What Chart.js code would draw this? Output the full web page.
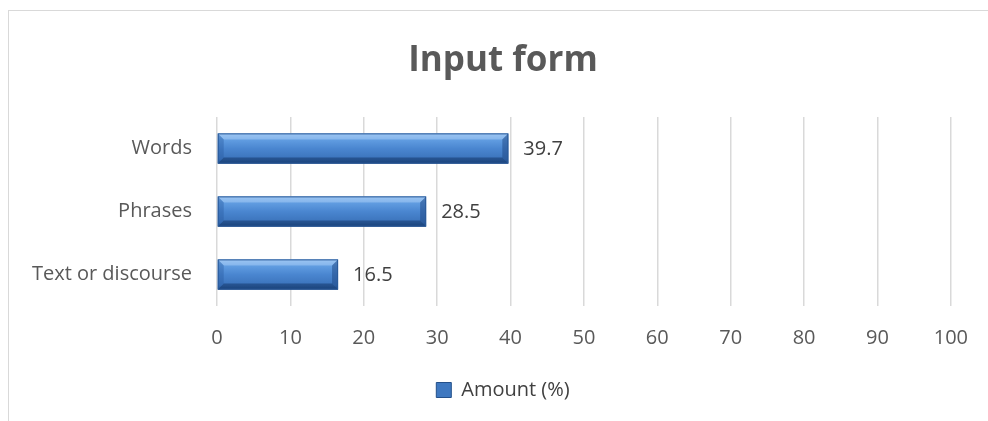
<!DOCTYPE html>
<html>
<head>
<meta charset="utf-8">
<script src="https://cdn.jsdelivr.net/npm/chart.js@4"></script>
<style>
  body { margin: 0; background: #fff; }
  #wrap { position: relative; width: 988px; height: 421px; }
  #frame { position: absolute; left: 8px; top: 10px; width: 1000px; height: 430px;
           border: 1px solid #d9d9d9; pointer-events: none; }
</style>
</head>
<body>
<div id="wrap">
  <canvas id="chart" width="988" height="421"></canvas>
  <div id="frame"></div>
</div>
<script>
var categories = ['Words', 'Phrases', 'Text or discourse'];
var amount = [39.7, 28.5, 16.5];
var seriesName = 'Amount (%)';
var chartTitle = 'Input form';

var fontFamily = "'Open Sans', sans-serif";

// bevelled look for the bars, drawn over the plain bars
var bevelBars = {
  id: 'bevelBars',
  afterDatasetsDraw: function(chart) {
    var ctx = chart.ctx;
    var meta = chart.getDatasetMeta(0);
    meta.data.forEach(function(el) {
      var p = el.getProps(['x', 'y', 'base', 'height'], true);
      var left = p.base, right = p.x;
      var top = p.y - p.height / 2, bot = p.y + p.height / 2;
      var h = bot - top;
      var b = 6;
      ctx.save();
      var g = ctx.createLinearGradient(0, top, 0, bot);
      g.addColorStop(0, '#8dbcf0');
      g.addColorStop(0.2, '#629ee2');
      g.addColorStop(0.5, '#4a86d0');
      g.addColorStop(0.85, '#3b73bb');
      g.addColorStop(1, '#1f4e8c');
      ctx.fillStyle = g;
      ctx.fillRect(left, top, right - left, h);
      // top bevel
      ctx.fillStyle = 'rgba(170,205,245,0.5)';
      ctx.beginPath();
      ctx.moveTo(left, top); ctx.lineTo(right, top);
      ctx.lineTo(right - b, top + b); ctx.lineTo(left + b, top + b);
      ctx.closePath(); ctx.fill();
      // bottom bevel
      ctx.fillStyle = 'rgba(20,55,105,0.55)';
      ctx.beginPath();
      ctx.moveTo(left, bot); ctx.lineTo(right, bot);
      ctx.lineTo(right - b, bot - b); ctx.lineTo(left + b, bot - b);
      ctx.closePath(); ctx.fill();
      // right bevel
      ctx.fillStyle = 'rgba(30,70,130,0.5)';
      ctx.beginPath();
      ctx.moveTo(right, top); ctx.lineTo(right, bot);
      ctx.lineTo(right - b, bot - b); ctx.lineTo(right - b, top + b);
      ctx.closePath(); ctx.fill();
      // left bevel
      ctx.fillStyle = 'rgba(40,90,160,0.4)';
      ctx.beginPath();
      ctx.moveTo(left, top); ctx.lineTo(left, bot);
      ctx.lineTo(left + b, bot - b); ctx.lineTo(left + b, top + b);
      ctx.closePath(); ctx.fill();
      ctx.strokeStyle = '#2a5a98';
      ctx.lineWidth = 1;
      ctx.strokeRect(left + 0.5, top + 0.5, right - left - 1, h - 1);
      ctx.restore();
    });
  }
};

var valueLabels = {
  id: 'valueLabels',
  afterDatasetsDraw: function(chart) {
    var ctx = chart.ctx;
    var meta = chart.getDatasetMeta(0);
    ctx.save();
    ctx.font = '20px ' + fontFamily;
    ctx.fillStyle = '#404040';
    ctx.textBaseline = 'middle';
    ctx.textAlign = 'left';
    meta.data.forEach(function(el, i) {
      ctx.fillText(amount[i].toFixed(1), el.x + 15, el.y + 1);
    });
    ctx.restore();
  }
};

var ctx = document.getElementById('chart');
var chart = new Chart(ctx, {
  type: 'bar',
  data: {
    labels: categories,
    datasets: [{
      label: seriesName,
      data: amount,
      backgroundColor: '#3f78c0',
      borderColor: '#24508a',
      borderWidth: 1,
      categoryPercentage: 1,
      barPercentage: 0.48
    }]
  },
  options: {
    indexAxis: 'y',
    responsive: false,
    animation: false,
    // padding + blank right axis keep title/legend centred on the whole frame
    layout: { padding: { left: 24, right: 6, top: 0, bottom: 11 } },
    plugins: {
      title: {
        display: true,
        text: chartTitle,
        color: '#595959',
        font: { family: fontFamily, size: 35, weight: 'bold' },
        padding: { top: 40, bottom: 35 }
      },
      legend: {
        position: 'bottom',
        labels: {
          color: '#404040',
          font: { family: fontFamily, size: 20 },
          boxWidth: 15,
          boxHeight: 15,
          padding: 10
        }
      },
      tooltip: { enabled: false }
    },
    scales: {
      x: {
        min: 0,
        max: 100,
        ticks: { stepSize: 10, color: '#595959', font: { family: fontFamily, size: 20 }, padding: 20 },
        grid: { color: '#d9d9d9', lineWidth: 1.5, drawTicks: false },
        border: { display: false },
        afterFit: function(scale) { scale.height = 64; }
      },
      y: {
        ticks: { color: '#595959', font: { family: fontFamily, size: 20 }, padding: 25 },
        grid: { display: false, drawTicks: false },
        border: { display: false },
        afterFit: function(scale) { scale.width = 193; }
      },
      yRight: {
        type: 'linear',
        position: 'right',
        ticks: { display: false },
        grid: { display: false, drawTicks: false },
        border: { display: false },
        afterFit: function(scale) { scale.width = 30; }
      }
    }
  },
  plugins: [bevelBars, valueLabels]
});
</script>
</body>
</html>
